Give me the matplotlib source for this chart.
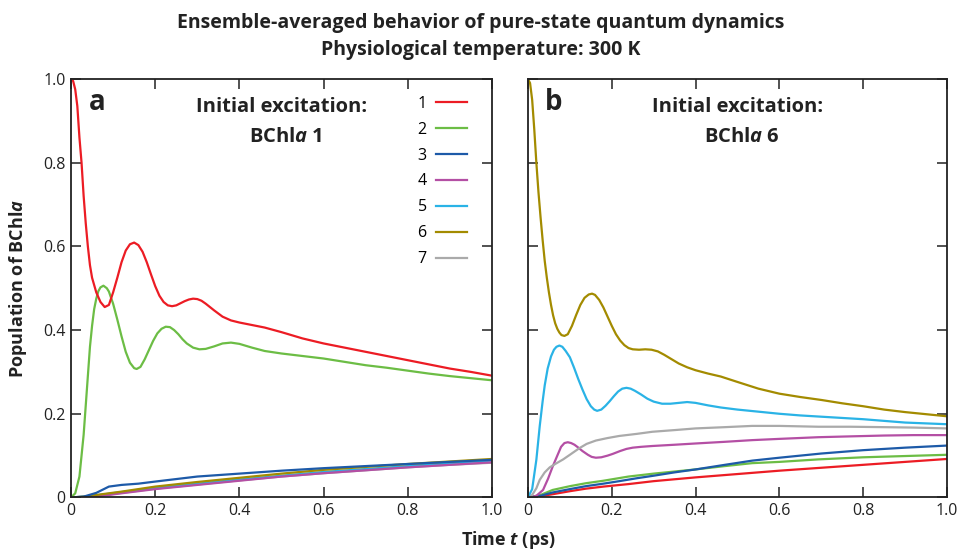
import numpy as np
import matplotlib
matplotlib.use("Agg")
import matplotlib.pyplot as plt

plt.rcParams['font.family'] = ['Open Sans', 'DejaVu Sans']
plt.rcParams['mathtext.fontset'] = 'custom'
plt.rcParams['mathtext.rm'] = 'Open Sans:bold'
plt.rcParams['mathtext.it'] = 'Open Sans:italic:bold'
plt.rcParams['mathtext.bf'] = 'Open Sans:bold'

# ---- panel a: initial excitation on BChl a 1 ----
ta_1 = [0, 0.005, 0.01, 0.015, 0.02, 0.025, 0.03, 0.035, 0.04, 0.045, 0.05, 0.06, 0.07, 0.08, 0.09,
        0.10, 0.11, 0.12, 0.13, 0.14, 0.15, 0.16, 0.17, 0.18, 0.19, 0.20, 0.21, 0.22, 0.23, 0.24,
        0.25, 0.26, 0.27, 0.28, 0.29, 0.30, 0.31, 0.32, 0.34, 0.36, 0.38, 0.40, 0.43, 0.46, 0.5,
        0.55, 0.6, 0.65, 0.7, 0.75, 0.8, 0.85, 0.9, 0.95, 1.0]
a_1 = [1.0, 0.995, 0.975, 0.935, 0.86, 0.80, 0.72, 0.655, 0.60, 0.555, 0.525, 0.49, 0.467, 0.455, 0.46,
       0.49, 0.525, 0.562, 0.59, 0.605, 0.609, 0.603, 0.587, 0.562, 0.533, 0.505, 0.482, 0.467, 0.459, 0.457,
       0.459, 0.464, 0.469, 0.473, 0.475, 0.474, 0.47, 0.463, 0.447, 0.432, 0.423, 0.418, 0.412, 0.406, 0.395,
       0.38, 0.368, 0.358, 0.348, 0.338, 0.328, 0.318, 0.308, 0.3, 0.291]

ta_2 = [0, 0.01, 0.02, 0.03, 0.035, 0.04, 0.045, 0.05, 0.055, 0.06, 0.065, 0.07, 0.077, 0.085, 0.09,
        0.10, 0.11, 0.12, 0.13, 0.14, 0.15, 0.156, 0.165, 0.175, 0.185, 0.195, 0.205, 0.215, 0.225, 0.235,
        0.245, 0.255, 0.265, 0.275, 0.29, 0.305, 0.32, 0.34, 0.36, 0.38, 0.40, 0.43, 0.46, 0.5,
        0.55, 0.6, 0.65, 0.7, 0.75, 0.8, 0.85, 0.9, 0.95, 1.0]
a_2 = [0, 0.01, 0.05, 0.15, 0.22, 0.29, 0.36, 0.41, 0.45, 0.475, 0.493, 0.502, 0.506, 0.5, 0.492,
       0.463, 0.425, 0.385, 0.348, 0.322, 0.309, 0.307, 0.312, 0.33, 0.352, 0.374, 0.392, 0.403, 0.408, 0.407,
       0.4, 0.39, 0.378, 0.368, 0.358, 0.354, 0.355, 0.361, 0.368, 0.37, 0.367, 0.358, 0.35, 0.344,
       0.338, 0.332, 0.324, 0.316, 0.31, 0.303, 0.296, 0.29, 0.285, 0.28]

ta_low = [0, 0.03, 0.06, 0.09, 0.12, 0.16, 0.2, 0.3, 0.4, 0.5, 0.6, 0.7, 0.8, 0.9, 1.0]
a_3 = [0, 0.002, 0.011, 0.026, 0.03, 0.033, 0.038, 0.05, 0.057, 0.064, 0.07, 0.075, 0.08, 0.085, 0.09]
a_4 = [0, 0.001, 0.003, 0.006, 0.01, 0.015, 0.02, 0.03, 0.04, 0.05, 0.058, 0.065, 0.072, 0.078, 0.084]
a_5 = [0, 0.002, 0.005, 0.009, 0.013, 0.018, 0.023, 0.033, 0.043, 0.052, 0.061, 0.068, 0.075, 0.082, 0.088]
a_6 = [0, 0.002, 0.006, 0.01, 0.014, 0.02, 0.026, 0.037, 0.047, 0.057, 0.066, 0.073, 0.08, 0.086, 0.092]
a_7 = [0, 0.001, 0.004, 0.007, 0.011, 0.016, 0.021, 0.031, 0.041, 0.05, 0.058, 0.065, 0.072, 0.078, 0.083]

# ---- panel b: initial excitation on BChl a 6 ----
tb_1 = [0, 0.03, 0.06, 0.1, 0.138, 0.18, 0.24, 0.3, 0.4, 0.5, 0.6, 0.7, 0.8, 0.9, 1.0]
b_1 = [0, 0.003, 0.008, 0.015, 0.021, 0.026, 0.032, 0.039, 0.048, 0.056, 0.064, 0.071, 0.078, 0.085, 0.092]

tb_2 = [0, 0.03, 0.059, 0.1, 0.138, 0.18, 0.24, 0.3, 0.35, 0.4, 0.47, 0.535, 0.6, 0.693, 0.8, 0.9, 1.0]
b_2 = [0, 0.006, 0.018, 0.027, 0.034, 0.04, 0.05, 0.057, 0.062, 0.067, 0.075, 0.082, 0.085, 0.091, 0.096, 0.099, 0.102]

tb_3 = [0, 0.03, 0.059, 0.1, 0.138, 0.18, 0.218, 0.26, 0.3, 0.35, 0.4, 0.47, 0.535, 0.6, 0.7, 0.8, 0.9, 1.0]
b_3 = [0, 0.004, 0.012, 0.02, 0.027, 0.033, 0.039, 0.046, 0.052, 0.06, 0.067, 0.078, 0.088, 0.095, 0.105, 0.113, 0.119, 0.124]

tb_4 = [0, 0.02, 0.036, 0.048, 0.059, 0.07, 0.079, 0.087, 0.095, 0.103, 0.111, 0.119, 0.13, 0.143, 0.152,
        0.162, 0.175, 0.19, 0.202, 0.22, 0.235, 0.25, 0.27, 0.297, 0.35, 0.4, 0.47, 0.535, 0.6, 0.693,
        0.77, 0.85, 0.92, 1.0]
b_4 = [0, 0.004, 0.018, 0.045, 0.074, 0.1, 0.121, 0.13, 0.132, 0.13, 0.126, 0.12, 0.111, 0.102, 0.097,
       0.095, 0.096, 0.1, 0.104, 0.111, 0.116, 0.119, 0.121, 0.123, 0.126, 0.129, 0.133, 0.137, 0.14, 0.144,
       0.146, 0.148, 0.149, 0.149]

tb_5 = [0, 0.01, 0.02, 0.028, 0.035, 0.04, 0.047, 0.055, 0.062, 0.068, 0.075, 0.082, 0.09, 0.1, 0.11,
        0.12, 0.13, 0.14, 0.15, 0.158, 0.165, 0.175, 0.185, 0.195, 0.205, 0.215, 0.225, 0.235, 0.245, 0.255,
        0.27, 0.285, 0.3, 0.32, 0.34, 0.36, 0.38, 0.4, 0.43, 0.46, 0.5, 0.55, 0.6, 0.65, 0.7,
        0.75, 0.8, 0.85, 0.9, 0.95, 1.0]
b_5 = [0, 0.02, 0.09, 0.17, 0.23, 0.268, 0.308, 0.337, 0.353, 0.36, 0.363, 0.36, 0.35, 0.335, 0.31,
       0.283, 0.258, 0.235, 0.218, 0.21, 0.207, 0.21, 0.219, 0.23, 0.242, 0.253, 0.26, 0.262, 0.26, 0.255,
       0.246, 0.236, 0.229, 0.224, 0.224, 0.226, 0.228, 0.226, 0.22, 0.215, 0.21, 0.205, 0.2, 0.196, 0.193,
       0.19, 0.187, 0.183, 0.179, 0.177, 0.175]

tb_6 = [0, 0.005, 0.01, 0.015, 0.02, 0.025, 0.03, 0.035, 0.04, 0.045, 0.05, 0.055, 0.06, 0.065, 0.07,
        0.075, 0.08, 0.087, 0.095, 0.105, 0.115, 0.125, 0.135, 0.145, 0.153, 0.16, 0.17, 0.18, 0.19, 0.2,
        0.21, 0.22, 0.23, 0.24, 0.25, 0.265, 0.28, 0.295, 0.31, 0.325, 0.34, 0.36, 0.38, 0.4, 0.43,
        0.46, 0.5, 0.55, 0.6, 0.65, 0.7, 0.75, 0.8, 0.85, 0.9, 0.95, 1.0]
b_6 = [1.0, 0.99, 0.95, 0.88, 0.80, 0.73, 0.67, 0.615, 0.565, 0.525, 0.49, 0.46, 0.435, 0.416, 0.403,
       0.394, 0.388, 0.386, 0.39, 0.41, 0.436, 0.46, 0.477, 0.485, 0.487, 0.484, 0.472, 0.454, 0.432, 0.41,
       0.39, 0.375, 0.364, 0.357, 0.354, 0.353, 0.354, 0.353, 0.349, 0.341, 0.332, 0.32, 0.311, 0.304, 0.296,
       0.289, 0.276, 0.26, 0.248, 0.24, 0.233, 0.225, 0.218, 0.21, 0.204, 0.199, 0.194]

tb_7 = [0, 0.01, 0.02, 0.028, 0.04, 0.052, 0.065, 0.084, 0.1, 0.123, 0.14, 0.162, 0.19, 0.218, 0.26,
        0.297, 0.35, 0.4, 0.47, 0.535, 0.6, 0.693, 0.77, 0.85, 0.92, 1.0]
b_7 = [0, 0.006, 0.022, 0.042, 0.06, 0.072, 0.08, 0.091, 0.102, 0.118, 0.128, 0.136, 0.142, 0.147, 0.152,
       0.157, 0.161, 0.165, 0.168, 0.171, 0.171, 0.169, 0.169, 0.168, 0.167, 0.165]

site_labels = ['1', '2', '3', '4', '5', '6', '7']
colors = ['#ec1c24', '#6cbd45', '#1d5aa8', '#b44fa4', '#2ab3e6', '#a38b00', '#aaaaaa']
x_ticks = [0, 0.2, 0.4, 0.6, 0.8, 1.0]
x_ticklabels = ['0', '0.2', '0.4', '0.6', '0.8', '1.0']
y_ticks = [0, 0.2, 0.4, 0.6, 0.8, 1.0]
y_ticklabels = ['0', '0.2', '0.4', '0.6', '0.8', '1.0']

fig = plt.figure(figsize=(9.61, 5.5), dpi=100)
ax_a = fig.add_axes([0.0739, 0.0955, 0.438, 0.761])
ax_b = fig.add_axes([0.5494, 0.0955, 0.436, 0.761])

series_a = [(ta_1, a_1), (ta_2, a_2), (ta_low, a_3), (ta_low, a_4), (ta_low, a_5), (ta_low, a_6), (ta_low, a_7)]
series_b = [(tb_1, b_1), (tb_2, b_2), (tb_3, b_3), (tb_4, b_4), (tb_5, b_5), (tb_6, b_6), (tb_7, b_7)]

# draw low bundle first in panel a so the big curves sit on top
order_a = [6, 4, 3, 5, 2, 1, 0]
lines = {}
for k in order_a:
    t, v = series_a[k]
    lines[k], = ax_a.plot(t, v, color=colors[k], lw=1.6, label=site_labels[k])
for k in [0, 1, 2, 3, 6, 4, 5]:
    t, v = series_b[k]
    ax_b.plot(t, v, color=colors[k], lw=1.6)

for ax in (ax_a, ax_b):
    ax.set_xlim(0, 1.0)
    ax.set_ylim(0, 1.0)
    ax.set_xticks(x_ticks)
    ax.set_xticklabels(x_ticklabels)
    ax.set_yticks(y_ticks)
    ax.tick_params(direction='in', length=7, width=1.1, top=True, right=True,
                   labelsize=11.5, colors='#222222', pad=4)
    for s in ax.spines.values():
        s.set_linewidth(1.3)
        s.set_color('#222222')

ax_a.set_yticklabels(y_ticklabels)
ax_b.set_yticklabels([])

for ax, letter, site in ((ax_a, 'a', '1'), (ax_b, 'b', '6')):
    ax.text(0.062, 0.943, letter, transform=ax.transAxes, fontsize=20, fontweight='bold',
            ha='center', va='center', color='#222222')
    ax.text(0.50, 0.933, 'Initial excitation:', transform=ax.transAxes, fontsize=14.5,
            fontweight='bold', ha='center', va='center', color='#222222')
    ax.text(0.51, 0.861, r'BChl$\it{a}$ ' + site, transform=ax.transAxes, fontsize=14.5,
            fontweight='bold', ha='center', va='center', color='#222222')

handles = [lines[k] for k in range(7)]
ax_a.legend(handles, site_labels, loc='upper right', bbox_to_anchor=(0.955, 0.975),
            frameon=False, markerfirst=False, fontsize=11.5, handlelength=1.9,
            handletextpad=0.6, labelspacing=0.62, borderaxespad=0)

fig.text(0.5, 0.958, 'Ensemble-averaged behavior of pure-state quantum dynamics',
         ha='center', va='center', fontsize=14, fontweight='bold', color='#222222')
fig.text(0.5, 0.91, 'Physiological temperature: 300 K',
         ha='center', va='center', fontsize=14, fontweight='bold', color='#222222')
fig.text(0.529, 0.018, r'Time $\it{t}$ (ps)', ha='center', va='center',
         fontsize=13, fontweight='bold', color='#222222')
fig.text(0.019, 0.476, r'Population of BChl$\it{a}$', ha='center', va='center',
         rotation=90, fontsize=13, fontweight='bold', color='#222222')

fig.savefig('out.png', dpi=100)
